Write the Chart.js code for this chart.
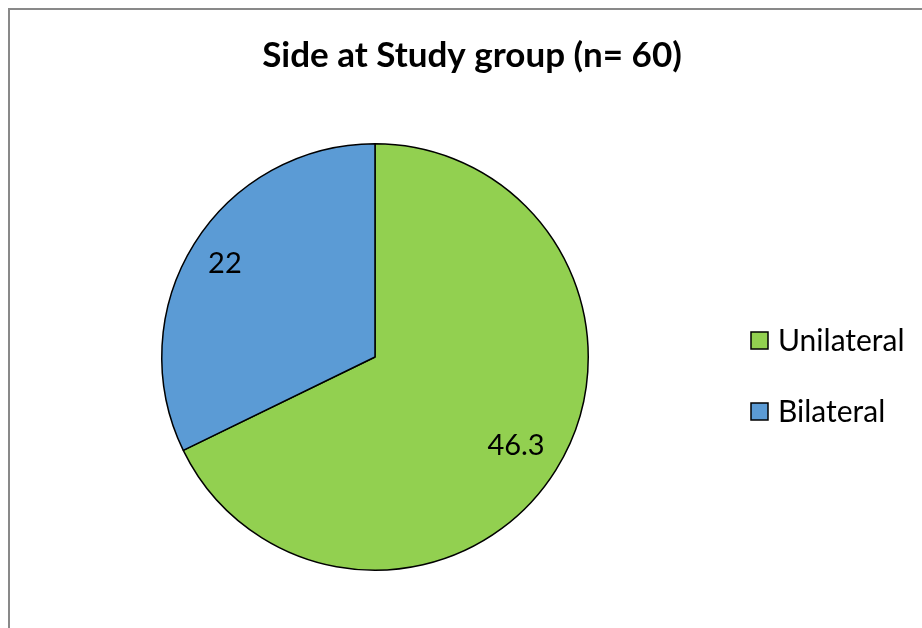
<!DOCTYPE html>
<html>
<head>
<meta charset="utf-8">
<script src="https://cdn.jsdelivr.net/npm/chart.js@4/dist/chart.umd.min.js"></script>
<style>
  html, body { margin: 0; padding: 0; background: #fff; }
  #wrap { width: 922px; height: 628px; }
</style>
</head>
<body>
<div id="wrap"><canvas id="chart-side"></canvas></div>
<script>
'use strict';

const titleText = 'Side at Study group (n= 60)';
const categories = ['Unilateral', 'Bilateral'];
const values = [46.3, 22];
const sliceColors = ['#92D050', '#5B9BD5'];

const FONT = 'Lato, "Open Sans", sans-serif';

// frame, title, slice labels and legend drawn by hand to match the original layout
const decorPlugin = {
    id: 'decor',
    beforeDraw(chart) {
        const ctx = chart.ctx;
        ctx.save();
        ctx.strokeStyle = '#898989';
        ctx.lineWidth = 2;
        ctx.strokeRect(9, 9, 1000, 1000);
        ctx.restore();
    },
    afterDraw(chart) {
        const ctx = chart.ctx;
        ctx.save();

        // title
        ctx.fillStyle = '#000';
        ctx.font = 'bold 35px ' + FONT;
        ctx.textAlign = 'center';
        ctx.textBaseline = 'middle';
        ctx.fillText(titleText, 472, 56);

        // slice labels
        const labelPos = [0.78, 0.83];
        ctx.font = '29px ' + FONT;
        chart.getDatasetMeta(0).data.forEach((arc, i) => {
            const p = arc.getProps(['x', 'y', 'startAngle', 'endAngle', 'outerRadius']);
            const mid = (p.startAngle + p.endAngle) / 2;
            const r = p.outerRadius * labelPos[i];
            ctx.fillText(String(values[i]), p.x + Math.cos(mid) * r, p.y + Math.sin(mid) * r);
        });

        // legend
        ctx.textAlign = 'left';
        ctx.font = '30px ' + FONT;
        categories.forEach((name, i) => {
            const y = 340 + i * 71;
            ctx.fillStyle = sliceColors[i];
            ctx.fillRect(751, y - 8, 17, 17);
            ctx.strokeStyle = '#000';
            ctx.lineWidth = 1.5;
            ctx.strokeRect(751, y - 8, 17, 17);
            ctx.fillStyle = '#000';
            ctx.fillText(name, 778, y + 1);
        });
        ctx.restore();
    }
};

new Chart(document.getElementById('chart-side').getContext('2d'), {
    type: 'pie',
    data: {
        labels: categories,
        datasets: [{
            data: values,
            backgroundColor: sliceColors,
            borderColor: '#000',
            borderWidth: 1.5
        }]
    },
    options: {
        responsive: true,
        maintainAspectRatio: false,
        animation: false,
        layout: {
            padding: {left: 161, right: 333, top: 143, bottom: 57}
        },
        plugins: {
            legend: {display: false},
            title: {display: false},
            tooltip: {enabled: false}
        }
    },
    plugins: [decorPlugin]
});
</script>
</body>
</html>
